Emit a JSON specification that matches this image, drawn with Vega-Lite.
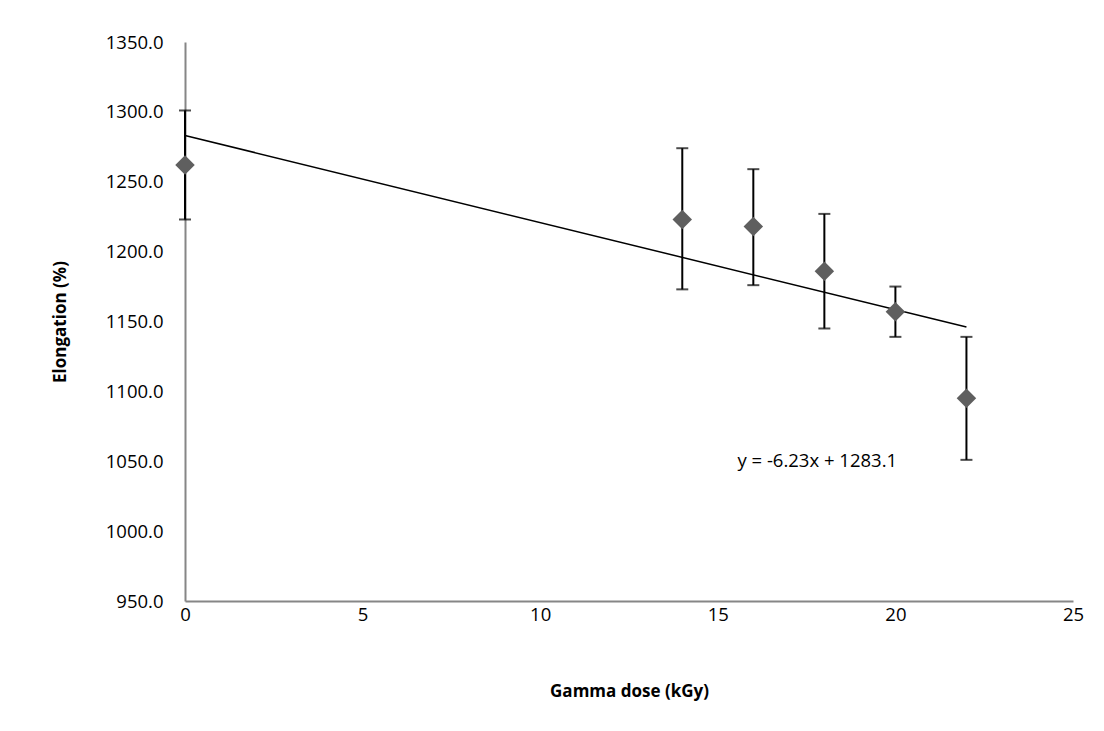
{
  "$schema": "https://vega.github.io/schema/vega-lite/v6.json",
  "width": 888,
  "height": 559,
  "autosize": {"type": "none"},
  "padding": {"left": 185, "top": 42, "right": 31, "bottom": 130},
  "background": "white",
  "config": {
    "view": {"stroke": null},
    "font": "Open Sans",
    "axis": {
      "grid": false,
      "ticks": false,
      "labelFlush": false,
      "labelOverlap": false,
      "domainColor": "#868686",
      "domainWidth": 2,
      "labelFont": "Open Sans",
      "labelFontSize": 18.5,
      "labelColor": "#000000",
      "titleFont": "Open Sans",
      "titleFontSize": 17,
      "titleFontWeight": "bold",
      "titleColor": "#000000"
    }
  },
  "datasets": {
    "points": [
      {"dose": 0, "elong": 1262, "low": 1223, "high": 1301},
      {"dose": 14, "elong": 1223, "low": 1173, "high": 1274},
      {"dose": 16, "elong": 1218, "low": 1176, "high": 1259},
      {"dose": 18, "elong": 1186, "low": 1145, "high": 1227},
      {"dose": 20, "elong": 1157, "low": 1139, "high": 1175},
      {"dose": 22, "elong": 1095, "low": 1051, "high": 1139}
    ],
    "trend": [
      {"dose": 0, "fit": 1283.1},
      {"dose": 22, "fit": 1146.04}
    ],
    "label": [
      {"dose": 17.8, "y": 1050, "text": "y = -6.23x + 1283.1"}
    ]
  },
  "layer": [
    {
      "data": {"name": "trend"},
      "mark": {"type": "line", "color": "#000000", "strokeWidth": 1.5},
      "encoding": {
        "x": {"field": "dose", "type": "quantitative", "scale": {"domain": [0, 25], "nice": false},
          "axis": {"title": "Gamma dose (kGy)", "values": [0, 5, 10, 15, 20, 25], "labelPadding": 4, "titlePadding": 60}},
        "y": {"field": "fit", "type": "quantitative", "scale": {"domain": [950, 1350], "nice": false, "zero": false},
          "axis": {"title": "Elongation (%)", "values": [950, 1000, 1050, 1100, 1150, 1200, 1250, 1300, 1350], "format": ".1f", "labelPadding": 22, "titlePadding": 36}}
      }
    },
    {
      "data": {"name": "points"},
      "mark": {"type": "rule", "color": "#000000", "strokeWidth": 2},
      "encoding": {
        "x": {"field": "dose", "type": "quantitative"},
        "y": {"field": "low", "type": "quantitative"},
        "y2": {"field": "high"}
      }
    },
    {
      "data": {"name": "points"},
      "mark": {"type": "tick", "color": "#000000", "orient": "horizontal", "size": 12, "thickness": 2},
      "encoding": {
        "x": {"field": "dose", "type": "quantitative"},
        "y": {"field": "low", "type": "quantitative"}
      }
    },
    {
      "data": {"name": "points"},
      "mark": {"type": "tick", "color": "#000000", "orient": "horizontal", "size": 12, "thickness": 2},
      "encoding": {
        "x": {"field": "dose", "type": "quantitative"},
        "y": {"field": "high", "type": "quantitative"}
      }
    },
    {
      "data": {"name": "points"},
      "mark": {"type": "point", "shape": "diamond", "filled": true, "color": "#5f5f5f", "opacity": 1, "size": 380},
      "encoding": {
        "x": {"field": "dose", "type": "quantitative"},
        "y": {"field": "elong", "type": "quantitative"}
      }
    },
    {
      "data": {"name": "label"},
      "mark": {"type": "text", "font": "Open Sans", "fontSize": 18.5, "color": "#000000", "align": "center", "baseline": "middle"},
      "encoding": {
        "x": {"field": "dose", "type": "quantitative"},
        "y": {"field": "y", "type": "quantitative"},
        "text": {"field": "text"}
      }
    }
  ]
}
